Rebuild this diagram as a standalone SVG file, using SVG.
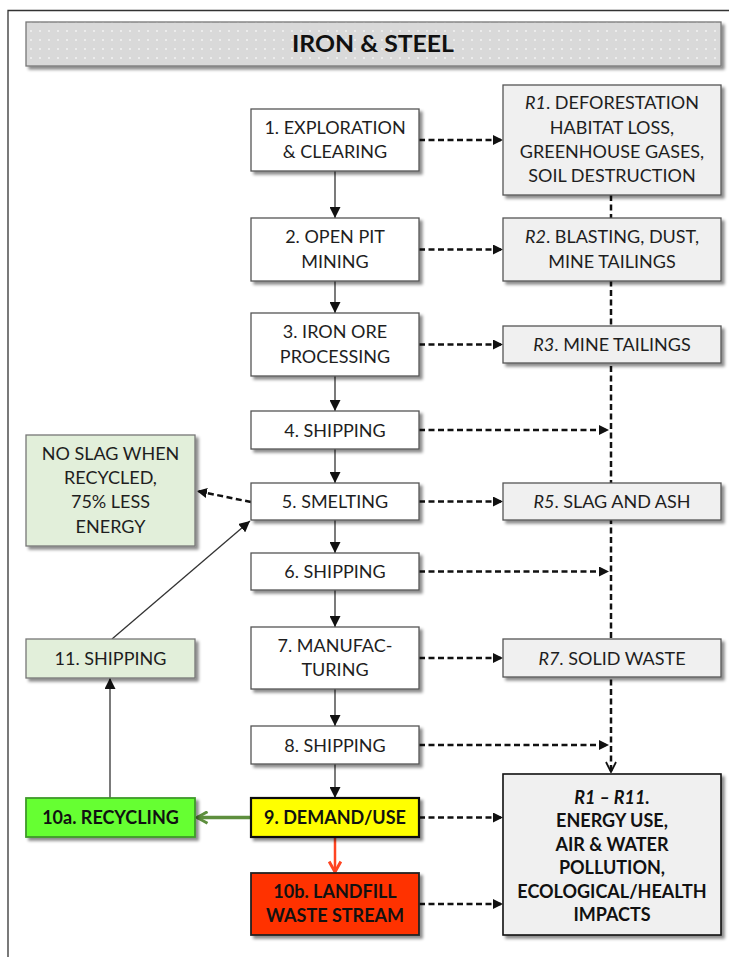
<svg xmlns="http://www.w3.org/2000/svg" width="729" height="957" viewBox="0 0 729 957">
<defs>
<style>
text{font-family:Lato,"Open Sans","Liberation Sans",sans-serif;font-size:18px;fill:#1e1e1e;text-anchor:middle}
.b{font-weight:bold;fill:#111}
.i{font-style:italic}
.box{fill:#fff;stroke:#555;stroke-width:1.3}
.rbox{fill:#f0f0f0;stroke:#555;stroke-width:1.3}
.gbox{fill:#e2efda;stroke:#777;stroke-width:1.3}
.solid{stroke:#333;stroke-width:1.3;fill:none}
.dash{stroke:#111;stroke-width:2.5;stroke-dasharray:6 3.5;fill:none}
</style>
<filter id="sh" x="-10%" y="-10%" width="130%" height="140%">
<feDropShadow dx="3" dy="3" stdDeviation="1.8" flood-color="#000" flood-opacity="0.45"/>
</filter>
<pattern id="dots" width="9" height="9" patternUnits="userSpaceOnUse">
<rect width="9" height="9" fill="#d9d9d9"/>
<rect x="3" y="3" width="2" height="2" fill="#ececec"/>
</pattern>
<marker id="ah" viewBox="0 0 10 10" refX="10" refY="5" markerWidth="10" markerHeight="10" markerUnits="userSpaceOnUse" orient="auto">
<path d="M0,0 L10,5 L0,10 z" fill="#111"/>
</marker>
<marker id="ahs" viewBox="0 0 10 10" refX="10" refY="5" markerWidth="11" markerHeight="11" markerUnits="userSpaceOnUse" orient="auto">
<path d="M0,0 L10,5 L0,10 z" fill="#111"/>
</marker>
<marker id="open" viewBox="0 0 12 12" refX="11" refY="6" markerWidth="12" markerHeight="12" markerUnits="userSpaceOnUse" orient="auto">
<path d="M1,1 L11,6 L1,11" fill="none" stroke="#111" stroke-width="1.8"/>
</marker>
<marker id="green" viewBox="0 0 12 12" refX="10" refY="6" markerWidth="14" markerHeight="14" markerUnits="userSpaceOnUse" orient="auto">
<path d="M1,1 L10,6 L1,11" fill="none" stroke="#5e8f3e" stroke-width="2.5"/>
</marker>
<marker id="red" viewBox="0 0 12 12" refX="10" refY="6" markerWidth="14" markerHeight="14" markerUnits="userSpaceOnUse" orient="auto">
<path d="M1,1 L10,6 L1,11" fill="none" stroke="#ff4422" stroke-width="2.5"/>
</marker>
</defs>
<rect width="729" height="957" fill="#fff"/>
<path d="M8,957 V10.5 H729" fill="none" stroke="#333" stroke-width="1.3"/>

<g id="title">
<rect x="26" y="22" width="695" height="44" fill="url(#dots)" stroke="#777" stroke-width="1.3" filter="url(#sh)"/>
<text x="373" y="52" class="b" style="font-size:22px" textLength="162" lengthAdjust="spacingAndGlyphs">IRON &amp; STEEL</text>
</g>

<g id="connectors">
<path class="solid" d="M335,171 V218" marker-end="url(#ahs)"/>
<path class="solid" d="M335,281 V313" marker-end="url(#ahs)"/>
<path class="solid" d="M335,376 V411" marker-end="url(#ahs)"/>
<path class="solid" d="M335,449 V483" marker-end="url(#ahs)"/>
<path class="solid" d="M335,520 V553" marker-end="url(#ahs)"/>
<path class="solid" d="M335,590 V627" marker-end="url(#ahs)"/>
<path class="solid" d="M335,689 V726" marker-end="url(#ahs)"/>
<path class="solid" d="M335,764 V798" marker-end="url(#ahs)"/>
<path class="dash" d="M611,195 V772" marker-end="url(#open)"/>
<path class="dash" d="M419,140 H503" marker-end="url(#ah)"/>
<path class="dash" d="M419,249.5 H503" marker-end="url(#ah)"/>
<path class="dash" d="M419,344.5 H503" marker-end="url(#ah)"/>
<path class="dash" d="M419,430 H609" marker-end="url(#ah)"/>
<path class="dash" d="M419,501.5 H503" marker-end="url(#ah)"/>
<path class="dash" d="M419,571.5 H609" marker-end="url(#ah)"/>
<path class="dash" d="M419,658 H503" marker-end="url(#ah)"/>
<path class="dash" d="M419,745 H609" marker-end="url(#ah)"/>
<path class="dash" d="M419,817.5 H503" marker-end="url(#ah)"/>
<path class="dash" d="M419,904 H503" marker-end="url(#ah)"/>
<path class="dash" d="M251,502 L197,491" marker-end="url(#ah)"/>
<path class="solid" d="M110,798 V678" marker-end="url(#ahs)"/>
<path class="solid" d="M112,639 L250,521" marker-end="url(#ahs)"/>
<path d="M251,817.5 H197" stroke="#5e8f3e" stroke-width="3.5" fill="none" marker-end="url(#green)"/>
<path d="M335,837 V872" stroke="#ff4422" stroke-width="2.5" fill="none" marker-end="url(#red)"/>
</g>

<g id="n1"><rect class="box" x="251" y="109" width="168" height="62" filter="url(#sh)"/>
<text x="335" y="133.5">1. EXPLORATION</text><text x="335" y="158">&amp; CLEARING</text></g>
<g id="n2"><rect class="box" x="251" y="218" width="168" height="63" filter="url(#sh)"/>
<text x="335" y="243">2. OPEN PIT</text><text x="335" y="267.5">MINING</text></g>
<g id="n3"><rect class="box" x="251" y="313" width="168" height="63" filter="url(#sh)"/>
<text x="335" y="338">3. IRON ORE</text><text x="335" y="362.5">PROCESSING</text></g>
<g id="n4"><rect class="box" x="251" y="411" width="168" height="38" filter="url(#sh)"/>
<text x="335" y="436.5">4. SHIPPING</text></g>
<g id="n5"><rect class="box" x="251" y="483" width="168" height="37" filter="url(#sh)"/>
<text x="335" y="508">5. SMELTING</text></g>
<g id="n6"><rect class="box" x="251" y="553" width="168" height="37" filter="url(#sh)"/>
<text x="335" y="578">6. SHIPPING</text></g>
<g id="n7"><rect class="box" x="251" y="627" width="168" height="62" filter="url(#sh)"/>
<text x="335" y="651.5">7. MANUFAC-</text><text x="335" y="676">TURING</text></g>
<g id="n8"><rect class="box" x="251" y="726" width="168" height="38" filter="url(#sh)"/>
<text x="335" y="751.5">8. SHIPPING</text></g>
<g id="n9"><rect x="251" y="798" width="168" height="39" fill="#ffff00" stroke="#111" stroke-width="2.2" filter="url(#sh)"/>
<text x="335" y="824" class="b">9. DEMAND/USE</text></g>
<g id="n10b"><rect x="251" y="873" width="168" height="62" fill="#ff3300" stroke="#222" stroke-width="1.8" filter="url(#sh)"/>
<text x="335" y="897.5" class="b">10b. LANDFILL</text><text x="335" y="922" class="b">WASTE STREAM</text></g>
<g id="n10a"><rect x="26" y="798" width="169" height="39" fill="#66ff33" stroke="#3f9a2a" stroke-width="1.8" filter="url(#sh)"/>
<text x="110.5" y="824" class="b">10a. RECYCLING</text></g>
<g id="n11"><rect class="gbox" x="26" y="639" width="169" height="39" filter="url(#sh)"/>
<text x="110.5" y="665">11. SHIPPING</text></g>
<g id="noslag"><rect class="gbox" x="26" y="435" width="169" height="111" filter="url(#sh)"/>
<text x="110.5" y="459.5">NO SLAG WHEN</text><text x="110.5" y="483.5">RECYCLED,</text><text x="110.5" y="508">75% LESS</text><text x="110.5" y="532.5">ENERGY</text></g>

<g id="r1"><rect class="rbox" x="503" y="85" width="218" height="110" filter="url(#sh)"/>
<text x="612" y="108.5"><tspan class="i">R1</tspan>. DEFORESTATION</text>
<text x="612" y="133.5">HABITAT LOSS,</text>
<text x="612" y="157.5">GREENHOUSE GASES,</text>
<text x="612" y="181.5">SOIL DESTRUCTION</text></g>
<g id="r2"><rect class="rbox" x="503" y="218" width="218" height="63" filter="url(#sh)"/>
<text x="612" y="243"><tspan class="i">R2</tspan>. BLASTING, DUST,</text><text x="612" y="267.5">MINE TAILINGS</text></g>
<g id="r3"><rect class="rbox" x="503" y="326" width="218" height="37" filter="url(#sh)"/>
<text x="612" y="351"><tspan class="i">R3</tspan>. MINE TAILINGS</text></g>
<g id="r5"><rect class="rbox" x="503" y="483" width="218" height="37" filter="url(#sh)"/>
<text x="612" y="508"><tspan class="i">R5</tspan>. SLAG AND ASH</text></g>
<g id="r7"><rect class="rbox" x="503" y="639" width="218" height="38" filter="url(#sh)"/>
<text x="612" y="664.5"><tspan class="i">R7</tspan>. SOLID WASTE</text></g>
<g id="r11"><rect x="503" y="774" width="218" height="161" fill="#f0f0f0" stroke="#111" stroke-width="1.6" filter="url(#sh)"/>
<text x="612" y="803.5" class="b i">R1 – R11.</text>
<text x="612" y="827" class="b">ENERGY USE,</text>
<text x="612" y="850.5" class="b">AIR &amp; WATER</text>
<text x="612" y="874" class="b">POLLUTION,</text>
<text x="612" y="897.5" class="b">ECOLOGICAL/HEALTH</text>
<text x="612" y="921" class="b">IMPACTS</text></g>
</svg>
